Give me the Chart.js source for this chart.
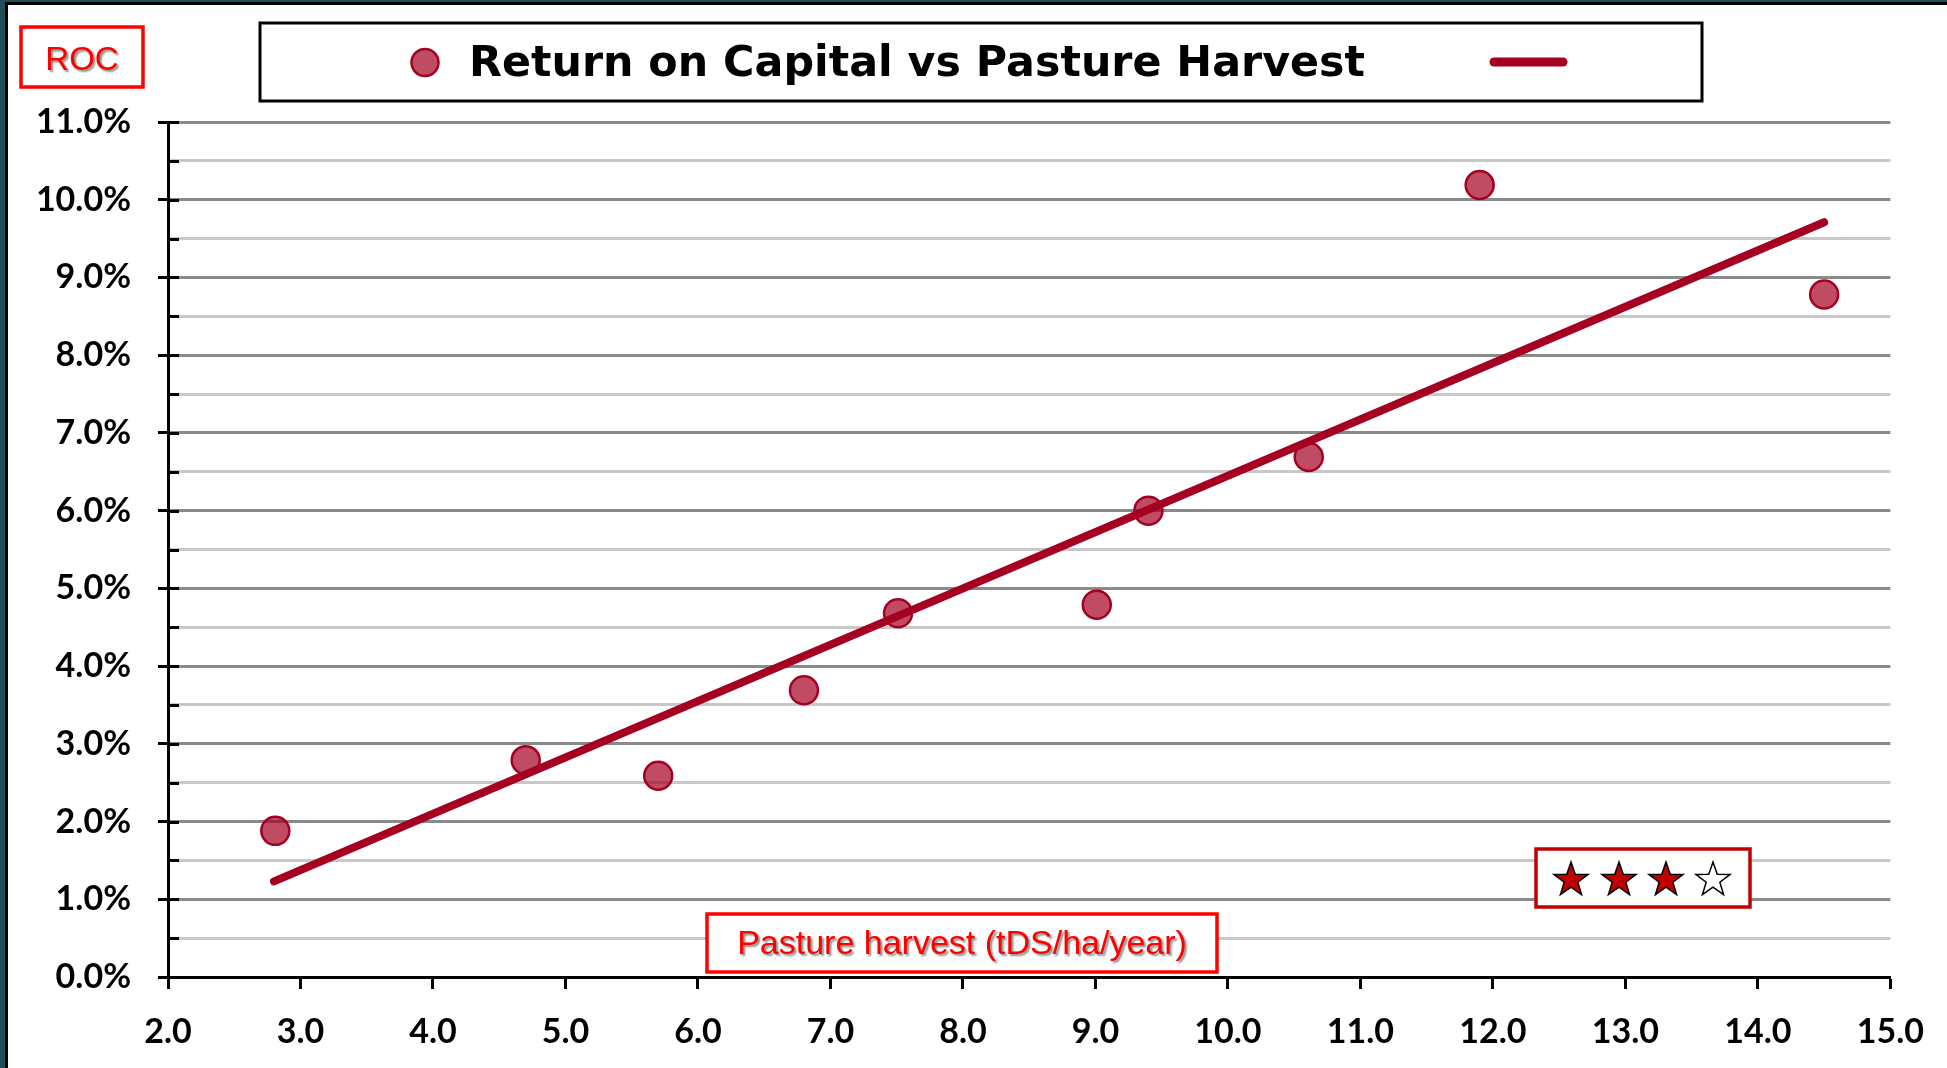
<!DOCTYPE html>
<html>
<head>
<meta charset="utf-8">
<script src="https://cdn.jsdelivr.net/npm/chart.js@4"></script>
<style>
    html, body { margin: 0; padding: 0; background: #fff; }
    #wrap { width: 1947px; height: 1068px; }
</style>
</head>
<body>
<div id="wrap"><canvas id="roc-chart" width="1947" height="1068"></canvas></div>
<script>
// pasture harvest (tDS/ha/year) and return on capital (%)
const harvest = [2.81, 4.70, 5.70, 6.80, 7.51, 9.01, 9.40, 10.61, 11.90, 14.50];
const roc     = [1.88, 2.79, 2.59, 3.69, 4.68, 4.79, 6.00, 6.69, 10.19, 8.78];

// trendline end points
const trendX = [2.80, 14.50];
const trendY = [1.23, 9.71];

const titleText = 'Return on Capital vs Pasture Harvest';
const xTitle    = 'Pasture harvest (tDS/ha/year)';
const yTitle    = 'ROC';
const rating    = [1, 1, 1, 0];   // filled / empty stars

const RED_DARK = '#a50021';
const tickFont = { family: 'Lato', size: 34, weight: 'bold' };

function drawStar(ctx, cx, cy, r, fill) {
    ctx.beginPath();
    for (let i = 0; i < 10; i++) {
        const rad = i % 2 === 0 ? r : r * 0.40;
        const a = -Math.PI / 2 + i * Math.PI / 5;
        const px = cx + rad * Math.cos(a), py = cy + rad * Math.sin(a);
        i === 0 ? ctx.moveTo(px, py) : ctx.lineTo(px, py);
    }
    ctx.closePath();
    ctx.fillStyle = fill;
    ctx.fill();
    ctx.lineWidth = 1.5;
    ctx.strokeStyle = '#000';
    ctx.stroke();
}

function shadowText(ctx, text, x, y) {
    ctx.save();
    ctx.shadowColor = 'rgba(0,0,0,0.45)';
    ctx.shadowOffsetX = 2;
    ctx.shadowOffsetY = 2;
    ctx.shadowBlur = 2;
    ctx.fillText(text, x, y);
    ctx.restore();
}

const decorations = {
    id: 'decorations',
    beforeDraw(chart) {
        const ctx = chart.ctx;
        ctx.save();
        ctx.fillStyle = '#fff';
        ctx.fillRect(0, 0, chart.width, chart.height);
        // dark frame top / left
        ctx.fillStyle = '#1f4d58';
        ctx.fillRect(0, 0, chart.width, 3);
        ctx.fillRect(0, 0, 5, chart.height);
        ctx.fillStyle = '#000';
        ctx.fillRect(5, 2, chart.width, 3);
        ctx.fillRect(5, 2, 3, chart.height);
        ctx.restore();
    },
    afterDraw(chart) {
        const ctx = chart.ctx;
        const y = chart.scales.y;
        ctx.save();

        // inward tick marks on the value axis
        ctx.strokeStyle = '#000';
        ctx.lineWidth = 3;
        y.ticks.forEach(t => {
            const py = Math.round(y.getPixelForValue(t.value)) + 0.5;
            ctx.beginPath();
            ctx.moveTo(y.right, py);
            ctx.lineTo(y.right + 11, py);
            ctx.stroke();
        });

        // legend box
        ctx.lineWidth = 3;
        ctx.strokeStyle = '#000';
        ctx.strokeRect(260, 23, 1442, 78);
        ctx.beginPath();
        ctx.arc(425, 62.5, 13.5, 0, Math.PI * 2);
        ctx.fillStyle = 'rgba(165,0,33,0.7)';
        ctx.fill();
        ctx.lineWidth = 2.5;
        ctx.strokeStyle = RED_DARK;
        ctx.stroke();
        ctx.fillStyle = '#000';
        ctx.font = 'bold 43px "DejaVu Sans"';
        ctx.textAlign = 'left';
        ctx.textBaseline = 'alphabetic';
        ctx.fillText(titleText, 469, 76, 896);
        ctx.beginPath();
        ctx.lineCap = 'round';
        ctx.lineWidth = 9;
        ctx.strokeStyle = RED_DARK;
        ctx.moveTo(1494, 62);
        ctx.lineTo(1563, 62);
        ctx.stroke();

        // ROC box
        ctx.lineWidth = 3.5;
        ctx.strokeStyle = '#ff0000';
        ctx.strokeRect(21, 27, 122, 60);
        ctx.fillStyle = '#ff0000';
        ctx.font = '33px "Liberation Sans"';
        ctx.textAlign = 'center';
        shadowText(ctx, yTitle, 82, 70);

        // axis title box
        ctx.fillStyle = '#fff';
        ctx.fillRect(707, 914, 510, 58);
        ctx.strokeStyle = '#ff0000';
        ctx.strokeRect(707, 914, 510, 58);
        ctx.fillStyle = '#ff0000';
        ctx.font = '34px "Liberation Sans"';
        shadowText(ctx, xTitle, 962, 954);

        // rating box
        ctx.fillStyle = '#fff';
        ctx.fillRect(1536, 849, 214, 58);
        ctx.strokeStyle = '#c00000';
        ctx.strokeRect(1536, 849, 214, 58);
        const starX = [1571, 1619, 1666, 1713];
        rating.forEach((on, i) => drawStar(ctx, starX[i], 880, 18, on ? '#c00000' : '#fff'));

        ctx.restore();
    }
};

new Chart(document.getElementById('roc-chart'), {
    type: 'scatter',
    data: {
        datasets: [
            {
                label: 'Trend',
                type: 'line',
                data: trendX.map((x, i) => ({ x, y: trendY[i] })),
                borderColor: RED_DARK,
                borderWidth: 8,
                borderCapStyle: 'round',
                pointRadius: 0,
                showLine: true,
                fill: false
            },
            {
                label: titleText,
                data: harvest.map((x, i) => ({ x, y: roc[i] })),
                backgroundColor: 'rgba(165,0,33,0.7)',
                borderColor: RED_DARK,
                borderWidth: 2.5,
                pointRadius: 14
            }
        ]
    },
    options: {
        responsive: false,
        animation: false,
        devicePixelRatio: 1,
        layout: { padding: { top: 122, right: 56, left: 0, bottom: 0 } },
        plugins: { legend: { display: false }, tooltip: { enabled: false } },
        scales: {
            x: {
                type: 'linear',
                min: 2, max: 15,
                afterFit: s => { s.height = 91; },
                ticks: {
                    stepSize: 1,
                    callback: v => v.toFixed(1),
                    color: '#000',
                    font: tickFont,
                    padding: 23,
                    maxRotation: 0,
                    autoSkip: false
                },
                grid: { drawOnChartArea: false, tickLength: 12, tickColor: '#000', tickWidth: 3 },
                border: { color: '#000', width: 3 }
            },
            y: {
                min: 0, max: 11,
                afterFit: s => { s.width = 168; },
                ticks: {
                    stepSize: 0.5,
                    autoSkip: false,
                    callback: v => Number.isInteger(v) ? v.toFixed(1) + '%' : '',
                    color: '#000',
                    font: tickFont,
                    padding: 27
                },
                grid: {
                    color: c => Number.isInteger(c.tick.value) ? '#8a8a8a' : '#c8c8c8',
                    lineWidth: 3,
                    tickLength: 10,
                    tickColor: c => Number.isInteger(c.tick.value) ? '#000' : 'rgba(0,0,0,0)',
                    tickWidth: 3
                },
                border: { color: '#000', width: 3 }
            }
        }
    },
    plugins: [decorations]
});
</script>
</body>
</html>
